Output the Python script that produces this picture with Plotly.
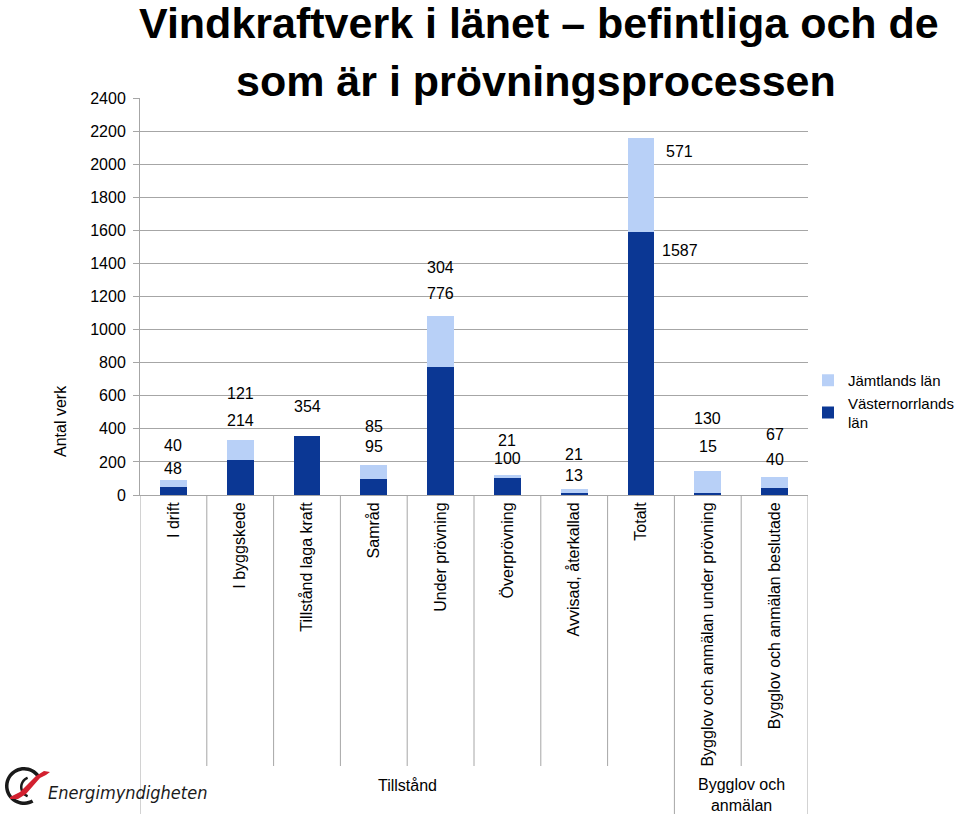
import numpy as np
import plotly.graph_objects as go

categories = ["I drift", "I byggskede", "Tillstånd laga kraft", "Samråd", "Under prövning",
              "Överprövning", "Avvisad, återkallad", "Totalt",
              "Bygglov och anmälan under prövning", "Bygglov och anmälan beslutade"]
vasternorrland = [48, 214, 354, 95, 776, 100, 13, 1587, 15, 40]
jamtland = [40, 121, 0, 85, 304, 21, 21, 571, 130, 67]
jamtland_shown = [True, True, False, True, True, True, True, True, True, True]
y_ticks = [0, 200, 400, 600, 800, 1000, 1200, 1400, 1600, 1800, 2000, 2200, 2400]
groups = ["Tillstånd", "Bygglov och<br>anmälan"]

# label placement (as in the original, labels float above the bars)
label_y_vast = [161, 449, 538, 292, 1219, 222, 115, 1481, 296, 212]
label_y_jamt = [298, 611, None, 413, 1376, 328, 242, 2075, 464, 367]
label_dx = [0, 0, 0, 0, 0, 0, 0, 0.58, 0, 0]

DARK = "#0B3794"
LIGHT = "#B8D0F7"
GRID = "#A6A6A6"
FONT = "Liberation Sans, Arial, sans-serif"
FS = 16

W, H = 960, 814
L, R, T, B = 140, 152, 98, 319
PW, PH = W - L - R, H - T - B


def px(x):
    return (x - L) / PW


def py(y):
    return (H - B - y) / PH


fig = go.Figure()
fig.add_trace(go.Bar(x=categories, y=vasternorrland, name="Västernorrlands<br>län",
                     marker=dict(color=DARK, line=dict(width=0)), legendgroup="v"))
fig.add_trace(go.Bar(x=categories, y=jamtland, name="Jämtlands län",
                     marker=dict(color=LIGHT, line=dict(width=0)), legendgroup="j"))

ann = []
for i in range(len(categories)):
    ann.append(dict(x=i + label_dx[i], y=label_y_vast[i], text=str(vasternorrland[i]),
                    xref="x", yref="y", showarrow=False, xanchor="center", yanchor="middle",
                    font=dict(size=FS, color="black", family=FONT)))
    if jamtland_shown[i] and label_y_jamt[i] is not None:
        ann.append(dict(x=i + label_dx[i], y=label_y_jamt[i], text=str(jamtland[i]),
                        xref="x", yref="y", showarrow=False, xanchor="center", yanchor="middle",
                        font=dict(size=FS, color="black", family=FONT)))

# titles
ann.append(dict(x=px(539), y=py(23), xref="paper", yref="paper", showarrow=False,
                xanchor="center", yanchor="middle",
                text="<b>Vindkraftverk i länet – befintliga och de</b>",
                font=dict(size=43, color="black", family=FONT)))
ann.append(dict(x=px(536), y=py(81), xref="paper", yref="paper", showarrow=False,
                xanchor="center", yanchor="middle",
                text="<b>som är i prövningsprocessen</b>",
                font=dict(size=43, color="black", family=FONT)))
ann.append(dict(x=px(60), y=py(421), xref="paper", yref="paper", showarrow=False,
                xanchor="center", yanchor="middle",
                text="Antal verk", textangle=-90,
                font=dict(size=FS, color="black", family=FONT)))
# group labels
ann.append(dict(x=(-0.5 + 7.5) / 2, y=py(785), xref="x", yref="paper", showarrow=False,
                xanchor="center", yanchor="middle",
                text=groups[0], font=dict(size=FS, color="black", family=FONT)))
ann.append(dict(x=(7.5 + 9.5) / 2, y=py(795), xref="x", yref="paper", showarrow=False,
                xanchor="center", yanchor="middle",
                text=groups[1], font=dict(size=FS, color="black", family=FONT)))
# logo text
ann.append(dict(x=px(46), y=py(792), xref="paper", yref="paper", showarrow=False,
                xanchor="left", yanchor="middle", text="Energimyndigheten",
                font=dict(size=18, color="#1a1a1a", family="DejaVu Sans Condensed, DejaVu Sans",
                          style="italic")))

shapes = []
short_bottom = py(766)
long_bottom = py(814)
for k in range(len(categories) + 1):
    xv = k - 0.5
    long_line = k in (0, 8, 10)
    shapes.append(dict(type="line", xref="x", yref="paper", x0=xv, x1=xv, y0=0,
                       y1=long_bottom if long_line else short_bottom,
                       line=dict(color=GRID, width=1)))


# logo swoosh
def poly(points):
    return "M " + " L ".join(f"{px(a):.5f},{py(b):.5f}" for a, b in points)


th = np.radians(np.linspace(35, 300, 40))
outer = [(24 + 19 * np.cos(t), 786 - 19 * np.sin(t)) for t in th]
inner = [(24 + 15.5 * np.cos(t), 786 - 15.5 * np.sin(t)) for t in th[::-1]]
shapes.append(dict(type="path", xref="paper", yref="paper", path=poly(outer + inner) + " Z",
                   fillcolor="#1a1a1a", line=dict(width=0)))
th2 = np.radians(np.linspace(110, 250, 25))
o2 = [(31 + 11 * np.cos(t), 787 - 11 * np.sin(t)) for t in th2]
i2 = [(31 + 8.5 * np.cos(t), 787 - 8.5 * np.sin(t)) for t in th2[::-1]]
shapes.append(dict(type="path", xref="paper", yref="paper", path=poly(o2 + i2) + " Z",
                   fillcolor="#1a1a1a", line=dict(width=0)))
sw_top = [(10, 797), (20, 792), (28, 784), (36, 776), (44, 771), (50, 772)]
sw_bot = [(46, 775), (40, 778), (33, 786), (26, 794), (18, 799), (10, 799)]
shapes.append(dict(type="path", xref="paper", yref="paper", path=poly(sw_top + sw_bot) + " Z",
                   fillcolor="#D2202F", line=dict(width=0)))

fig.update_layout(
    width=W, height=H,
    margin=dict(l=L, r=R, t=T, b=B, autoexpand=False),
    barmode="stack", bargap=0.6,
    paper_bgcolor="white", plot_bgcolor="white",
    font=dict(family=FONT, size=FS, color="black"),
    showlegend=True,
    legend=dict(x=px(808), y=py(364), xanchor="left", yanchor="top",
                traceorder="reversed", tracegroupgap=12,
                font=dict(size=15, color="black", family=FONT),
                bgcolor="rgba(0,0,0,0)"),
    annotations=ann, shapes=shapes,
    xaxis=dict(type="category", range=[-0.5, 9.5], tickangle=-90, showline=True,
               linecolor=GRID, linewidth=1, ticks="", showgrid=False,
               tickfont=dict(size=FS, color="black", family=FONT), fixedrange=True),
    yaxis=dict(range=[0, 2400], tickvals=y_ticks, showline=True, linecolor=GRID,
               linewidth=1, ticks="outside", ticklen=6, tickcolor=GRID,
               showgrid=True, gridcolor=GRID, gridwidth=1, zeroline=False,
               ticklabelstandoff=4,
               tickfont=dict(size=FS, color="black", family=FONT), fixedrange=True),
)

fig.write_html("out.html")
